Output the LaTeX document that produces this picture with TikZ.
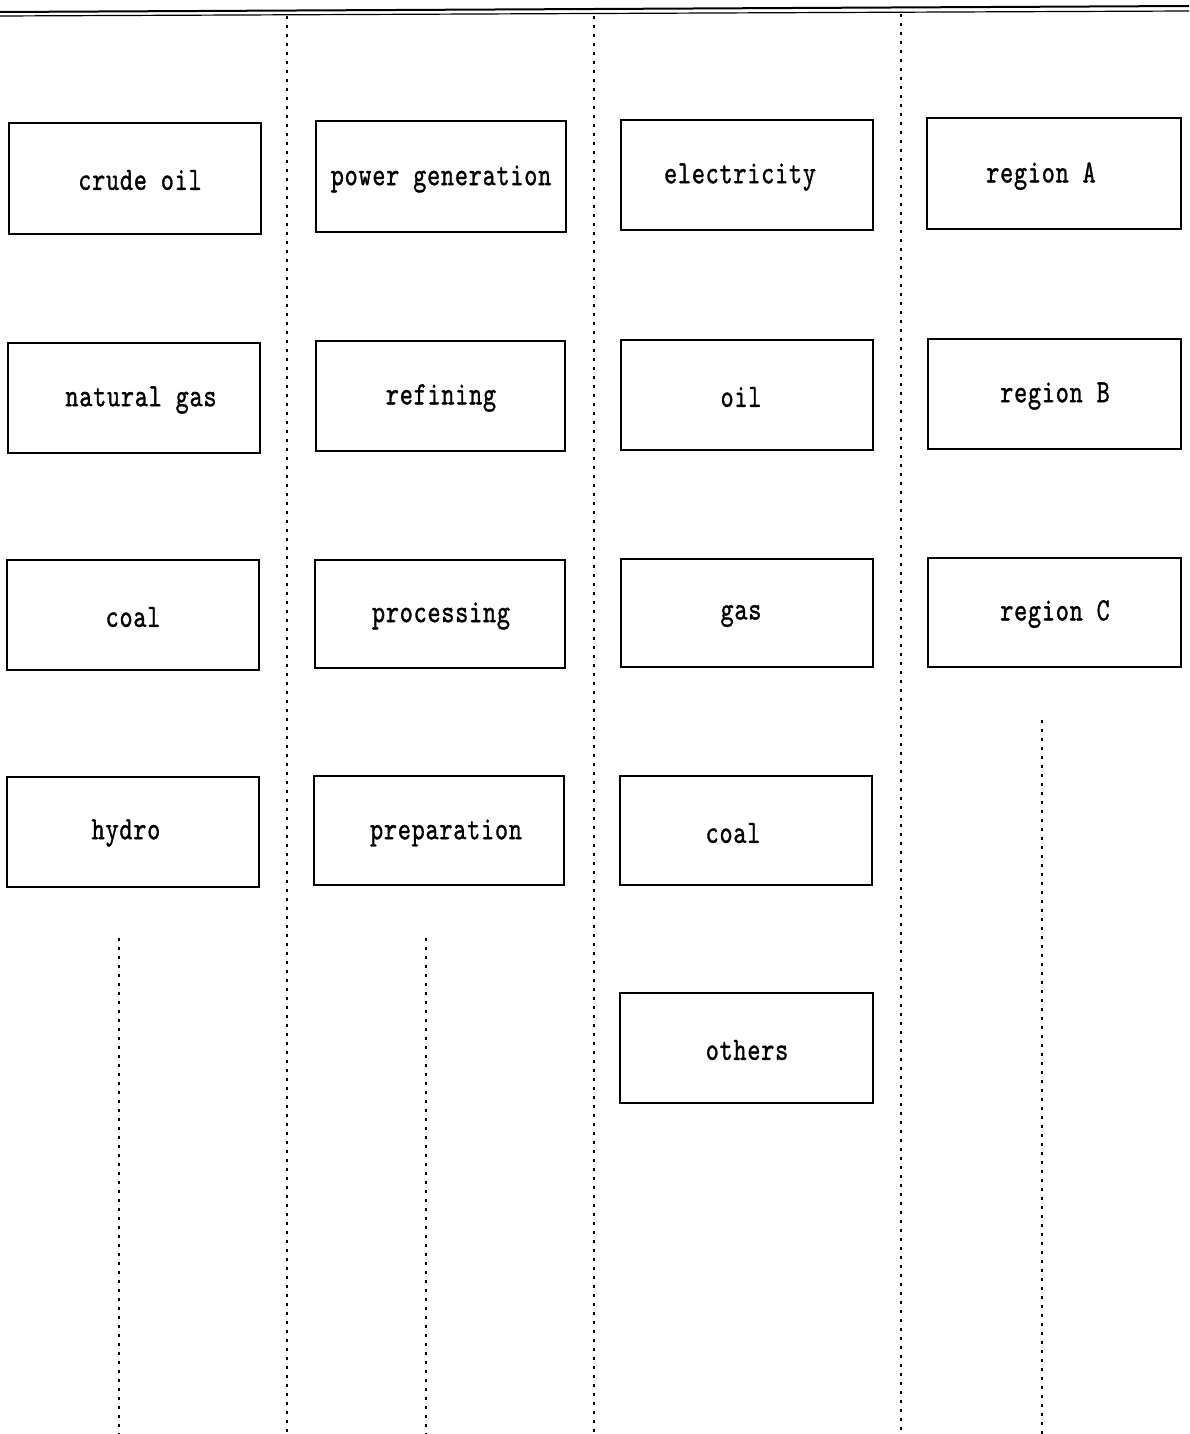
\documentclass[tikz,border=0pt]{standalone}
\usepackage{fontspec}
\usepackage{graphicx}
\newfontfamily\boxfont{lmmono10-regular.otf}[FakeBold=1.2,LetterSpace=3]
\newcommand\lb[1]{\scalebox{1}[1.3]{#1}}
\begin{document}
\begin{tikzpicture}[x=1pt,y=-1pt,
  box/.style={draw,line width=2pt,minimum width=252pt,minimum height=110pt,inner sep=0pt},
  lbl/.style={font=\boxfont\fontsize{25}{30}\selectfont},
  dotline/.style={line width=2pt,dash pattern=on 3pt off 6pt}]
\useasboundingbox[fill=white] (0,0) rectangle (1189,1434);
% top double rule
\coordinate (tl1) at (0,12); \coordinate (tr1) at (1189,6);
\coordinate (tl2) at (0,16); \coordinate (tr2) at (1189,11);
\draw[line width=2pt] (tl1) -- (tr1);
\draw[line width=1.2pt] (tl2) -- (tr2);
% dotted vertical lines
\coordinate (d1a) at (287,16); \coordinate (d1b) at (287,1434);
\coordinate (d2a) at (594,16); \coordinate (d2b) at (594,1434);
\coordinate (d3a) at (901,14); \coordinate (d3b) at (901,1434);
\coordinate (s1a) at (119,938); \coordinate (s1b) at (119,1434);
\coordinate (s2a) at (426,938); \coordinate (s2b) at (426,1434);
\coordinate (s3a) at (1042,720); \coordinate (s3b) at (1042,1434);
\foreach \a/\b in {d1a/d1b,d2a/d2b,d3a/d3b,s1a/s1b,s2a/s2b,s3a/s3b}
  \draw[dotline] (\a) -- (\b);
% column 1
\node[box] (crude) at (134.5,178.5) {};
\node[lbl] (crudeT) at (140,180) {\lb{crude oil}};
\node[box] (ngas) at (134,398) {};
\node[lbl] (ngasT) at (141,400) {\lb{natural gas}};
\node[box] (coal1) at (133,615) {};
\node[lbl] (coal1T) at (133,617) {\lb{coal}};
\node[box] (hydro) at (132.5,831.5) {};
\node[lbl] (hydroT) at (126,833) {\lb{hydro}};
% column 2
\node[box,minimum width=250pt] (power) at (441,176.5) {};
\node[lbl] (powerT) at (441,179) {\lb{power generation}};
\node[box,minimum width=249pt] (refin) at (440.5,396) {};
\node[lbl] (refinT) at (441,398) {\lb{refining}};
\node[box,minimum width=250pt,minimum height=108pt] (proc) at (440,614) {};
\node[lbl] (procT) at (441,616) {\lb{processing}};
\node[box,minimum width=250pt,minimum height=109pt] (prep) at (439,830.5) {};
\node[lbl] (prepT) at (446,833) {\lb{preparation}};
% column 3
\node[box] (elec) at (747,175) {};
\node[lbl] (elecT) at (740,177) {\lb{electricity}};
\node[box] (oil) at (747,395) {};
\node[lbl] (oilT) at (741,397) {\lb{oil}};
\node[box,minimum height=108pt] (gas) at (747,613) {};
\node[lbl] (gasT) at (741,616) {\lb{gas}};
\node[box,minimum height=109pt] (coal3) at (746,830.5) {};
\node[lbl] (coal3T) at (733,833) {\lb{coal}};
\node[box,minimum width=253pt] (others) at (746.5,1048) {};
\node[lbl] (othersT) at (747,1050) {\lb{others}};
% column 4
\node[box,minimum width=254pt,minimum height=111pt] (regA) at (1054,173.5) {};
\node[lbl] (regAT) at (1041,176) {\lb{region A}};
\node[box,minimum width=253pt] (regB) at (1054.5,394) {};
\node[lbl] (regBT) at (1055,396) {\lb{region B}};
\node[box,minimum width=253pt,minimum height=109pt] (regC) at (1054.5,612.5) {};
\node[lbl] (regCT) at (1055,614) {\lb{region C}};
\end{tikzpicture}
\end{document}
